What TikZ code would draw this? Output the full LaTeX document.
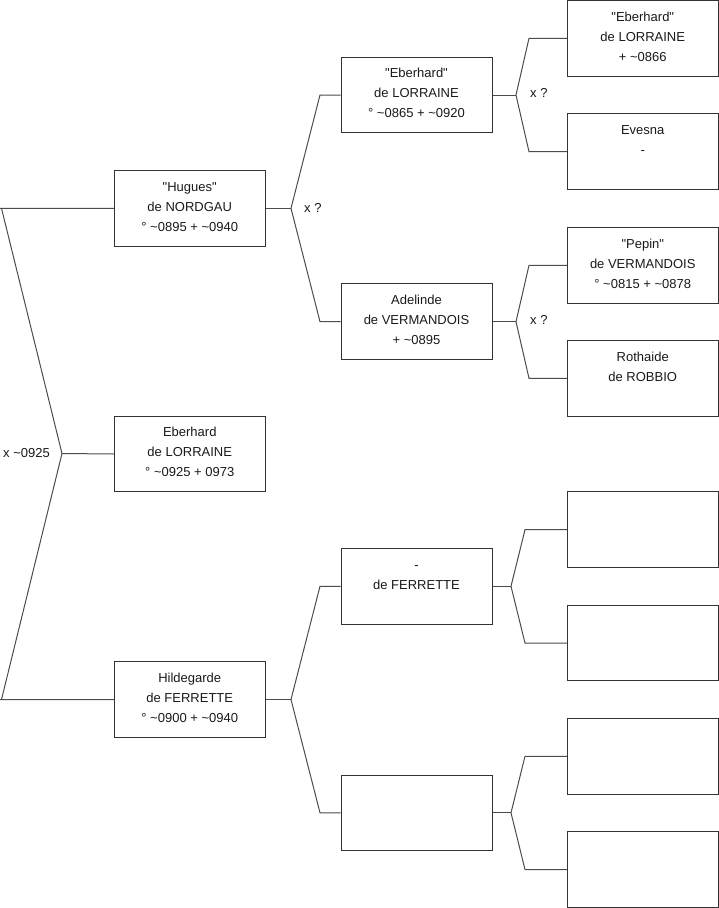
\documentclass[tikz,border=0pt]{standalone}
\usepackage{fontspec}
\setmainfont{Liberation Sans}
\newcommand{\qq}{\textquotedbl}
\begin{document}
\begin{tikzpicture}[x=1pt,y=-1pt,
  box/.style={draw=black!80, line width=1pt, rectangle, minimum width=151pt, minimum height=75.5pt, inner sep=0pt},
  txt/.style={anchor=base, align=center, inner sep=0pt, font=\fontsize{13}{20}\selectfont, text=black!90},
  lbl/.style={anchor=base west, inner sep=0pt, font=\fontsize{13}{20}\selectfont, text=black!90},
  conn/.style={draw=black!70, line width=1pt}]
\useasboundingbox (0,0) rectangle (719,908);
% column 1
\node[box] (hug) at (189.75,208.3) {};
\node[box] (ebe) at (189.75,454) {};
\node[box] (hil) at (189.75,699.5) {};
% column 2
\node[box] (ebl) at (416.5,95) {};
\node[box] (ade) at (416.5,321.7) {};
\node[box] (fer) at (416.5,586.3) {};
\node[box] (emp) at (416.5,812.8) {};
% column 3
\node[box] (c1) at (642.75,38.3) {};
\node[box] (c2) at (642.75,151.7) {};
\node[box] (c3) at (642.75,265.3) {};
\node[box] (c4) at (642.75,378.3) {};
\node[box] (c5) at (642.75,529.7) {};
\node[box] (c6) at (642.75,643) {};
\node[box] (c7) at (642.75,756.3) {};
\node[box] (c8) at (642.75,869.6) {};
% texts (base anchor = baseline of the last line)
\node[txt] (thug) at ([yshift=-61pt]hug.north) {\qq Hugues\qq\\de NORDGAU\\° \textasciitilde0895 + \textasciitilde0940};
\node[txt] (tebe) at ([yshift=-61pt]ebe.north) {Eberhard\\de LORRAINE\\° \textasciitilde0925 + 0973};
\node[txt] (thil) at ([yshift=-61pt]hil.north) {Hildegarde\\de FERRETTE\\° \textasciitilde0900 + \textasciitilde0940};
\node[txt] (tebl) at ([yshift=-61pt]ebl.north) {\qq Eberhard\qq\\de LORRAINE\\° \textasciitilde0865 + \textasciitilde0920};
\node[txt] (tade) at ([yshift=-61pt]ade.north) {Adelinde\\de VERMANDOIS\\+ \textasciitilde0895};
\node[txt] (tfer) at ([yshift=-41pt]fer.north) {-\\de FERRETTE};
\node[txt] (tc1) at ([yshift=-61pt]c1.north) {\qq Eberhard\qq\\de LORRAINE\\+ \textasciitilde0866};
\node[txt] (tc2) at ([yshift=-41pt]c2.north) {Evesna\\-};
\node[txt] (tc3) at ([yshift=-61pt]c3.north) {\qq Pepin\qq\\de VERMANDOIS\\° \textasciitilde0815 + \textasciitilde0878};
\node[txt] (tc4) at ([yshift=-41pt]c4.north) {Rothaide\\de ROBBIO};
% fork points
\coordinate (f0) at (62,453.5);
\coordinate (r0a) at (1.5,208.3);
\coordinate (r0b) at (1.5,699.5);
\coordinate (f1) at (291,208.3);
\coordinate (f1a) at (320,95);
\coordinate (f1b) at (320,321.7);
\coordinate (f2) at (291,699.5);
\coordinate (f2a) at (320,586.3);
\coordinate (f2b) at (320,812.8);
\coordinate (f3) at (516,95);
\coordinate (f3a) at (529,38.3);
\coordinate (f3b) at (529,151.7);
\coordinate (f4) at (516,321.7);
\coordinate (f4a) at (529,265.3);
\coordinate (f4b) at (529,378.3);
\coordinate (f5) at (511,586.3);
\coordinate (f5a) at (525,529.7);
\coordinate (f5b) at (525,643);
\coordinate (f6) at (511,812.8);
\coordinate (f6a) at (525,756.3);
\coordinate (f6b) at (525,869.6);
% connectors
\draw[conn] (hug.west) -- (0,208.3) -- (r0a) -- (f0) -- (r0b) -- (0,699.5) -- (hil.west);
\draw[conn] (f0) -- (ebe.west);
\draw[conn] (hug.east) -- (f1);
\draw[conn] (ebl.west) -- (f1a) -- (f1) -- (f1b) -- (ade.west);
\draw[conn] (hil.east) -- (f2);
\draw[conn] (fer.west) -- (f2a) -- (f2) -- (f2b) -- (emp.west);
\draw[conn] (ebl.east) -- (f3);
\draw[conn] (c1.west) -- (f3a) -- (f3) -- (f3b) -- (c2.west);
\draw[conn] (ade.east) -- (f4);
\draw[conn] (c3.west) -- (f4a) -- (f4) -- (f4b) -- (c4.west);
\draw[conn] (fer.east) -- (f5);
\draw[conn] (c5.west) -- (f5a) -- (f5) -- (f5b) -- (c6.west);
\draw[conn] (emp.east) -- (f6);
\draw[conn] (c7.west) -- (f6a) -- (f6) -- (f6b) -- (c8.west);
% labels
\node[lbl] (l0) at (3,457) {x \textasciitilde0925};
\node[lbl] (l1) at (304,212.5) {x ?};
\node[lbl] (l2) at (530,97.5) {x ?};
\node[lbl] (l3) at (530,324.5) {x ?};
\end{tikzpicture}
\end{document}
